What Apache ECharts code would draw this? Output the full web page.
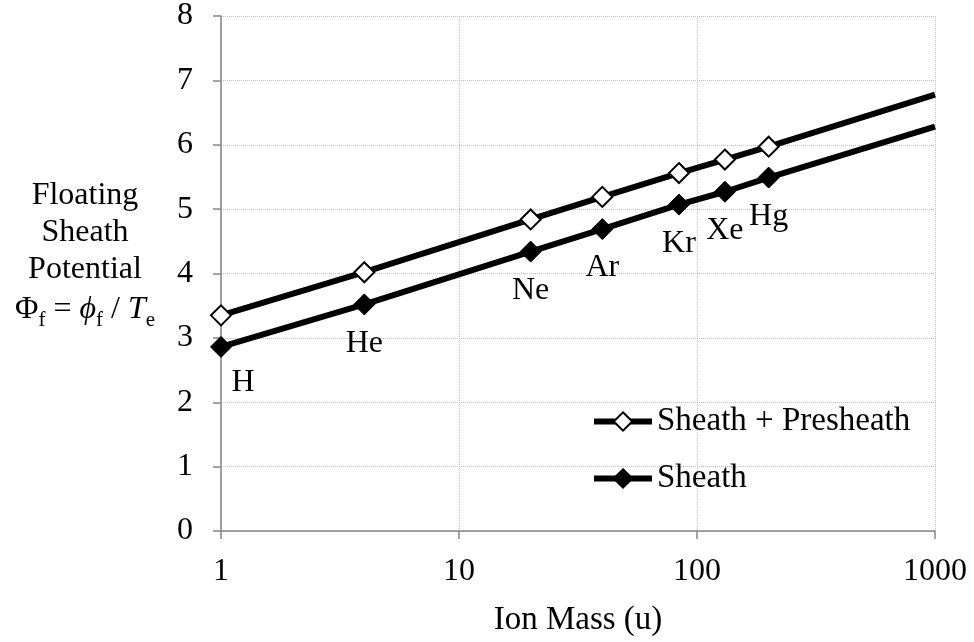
<!DOCTYPE html>
<html><head><meta charset="utf-8">
<script src="https://cdn.jsdelivr.net/npm/echarts@6/dist/echarts.min.js"></script>
<style>html,body{margin:0;padding:0;background:#fff}#c{width:974px;height:642px}</style>
</head><body><div id="c"></div>
<script>
// Data
const ionMass = [1, 4, 20, 40, 84, 131, 200, 1000];
const ionNames = ['H', 'He', 'Ne', 'Ar', 'Kr', 'Xe', 'Hg', ''];
const sheathPresheath = [3.35, 4.02, 4.84, 5.19, 5.56, 5.77, 5.97, 6.78];
const sheath = [2.86, 3.52, 4.34, 4.69, 5.07, 5.27, 5.49, 6.28];
const seriesNames = ['Sheath + Presheath', 'Sheath'];
const xTickLabels = ['1', '10', '100', '1000'];
const yTickLabels = ['0', '1', '2', '3', '4', '5', '6', '7', '8'];
const axisTitleX = 'Ion Mass (u)';
const axisTitleYLines = ['Floating', 'Sheath', 'Potential'];

const FONT = "'Liberation Serif', 'Times New Roman', serif";
const FS = 32;

function makeData(vals, withLabels) {
  return ionMass.map((m, i) => {
    const last = i === ionMass.length - 1;
    const item = { value: [m, vals[i]] };
    if (last) { item.symbol = 'none'; }
    if (withLabels && !last) {
      item.label = {
        show: true,
        position: 'inside',
        offset: i === 0 ? [22, 36] : [0, 39],
        formatter: () => ionNames[i],
        color: '#000', fontFamily: FONT, fontSize: FS
      };
    }
    return item;
  });
}

const chart = echarts.init(document.getElementById('c'), null, { renderer: 'canvas' });
chart.setOption({
  backgroundColor: '#fff',
  animation: false,
  grid: { left: 221, right: 39, top: 15, bottom: 107, containLabel: false },
  xAxis: {
    type: 'log', logBase: 10, min: 1, max: 1000,
    name: axisTitleX, nameLocation: 'middle', nameGap: 73,
    nameTextStyle: { color: '#000', fontFamily: FONT, fontSize: 33 },
    axisLine: { show: true, lineStyle: { color: '#868686', width: 1.5 } },
    axisTick: { show: true, length: 8, lineStyle: { color: '#868686', width: 1.5 } },
    axisLabel: {
      color: '#000', fontFamily: FONT, fontSize: FS, margin: 25,
      formatter: v => { const k = Math.round(Math.log10(v)); return xTickLabels[k] !== undefined ? xTickLabels[k] : ''; }
    },
    splitLine: { show: true, lineStyle: { color: '#bfbfbf', type: 'dotted', width: 1 } },
    minorTick: { show: false }
  },
  yAxis: {
    type: 'value', min: 0, max: 8, interval: 1,
    axisLine: { show: true, lineStyle: { color: '#868686', width: 1.5 } },
    axisTick: { show: true, length: 8, lineStyle: { color: '#868686', width: 1.5 } },
    axisLabel: {
      color: '#000', fontFamily: FONT, fontSize: FS, margin: 28,
      formatter: v => yTickLabels[Math.round(v)]
    },
    splitLine: { show: true, lineStyle: { color: '#bfbfbf', type: 'dotted', width: 1 } }
  },
  legend: {
    orient: 'vertical', left: 591, top: 405, itemWidth: 58, itemHeight: 23, itemGap: 24,
    padding: 0,
    lineStyle: { width: 6, color: '#000' },
    itemStyle: { borderWidth: 2 },
    textStyle: { color: '#000', fontFamily: FONT, fontSize: 33, padding: [0, 0, 0, 0] },
    data: seriesNames
  },
  graphic: [
    {
      type: 'text', x: 85, y: 177, silent: true,
      style: {
        text: axisTitleYLines.join('\n'),
        align: 'center', verticalAlign: 'top',
        fontFamily: FONT, fontSize: FS, lineHeight: 37, fill: '#000'
      }
    },
    {
      type: 'text', x: 85, y: 294, silent: true,
      style: {
        text: '{n|Φ}{s|f}{n| = }{i|ϕ}{s|f}{n| / }{i|T}{s|e}',
        align: 'center', verticalAlign: 'top',
        fill: '#000',
        rich: {
          n: { fontFamily: FONT, fontSize: FS, lineHeight: 37, fill: '#000', verticalAlign: 'top' },
          i: { fontFamily: FONT, fontSize: FS, fontStyle: 'italic', lineHeight: 37, fill: '#000', verticalAlign: 'top' },
          s: { fontFamily: FONT, fontSize: 21, lineHeight: 21, fill: '#000', verticalAlign: 'bottom' }
        }
      }
    }
  ],
  series: [
    {
      name: seriesNames[0], type: 'line',
      data: makeData(sheathPresheath, false),
      symbol: 'diamond', symbolSize: 20, showAllSymbol: true,
      lineStyle: { color: '#000', width: 6 },
      itemStyle: { color: '#fff', borderColor: '#000', borderWidth: 2 },
      emphasis: { disabled: true }, z: 3
    },
    {
      name: seriesNames[1], type: 'line',
      data: makeData(sheath, true),
      symbol: 'diamond', symbolSize: 21, showAllSymbol: true,
      lineStyle: { color: '#000', width: 6 },
      itemStyle: { color: '#000', borderColor: '#000', borderWidth: 1 },
      emphasis: { disabled: true }, z: 2
    }
  ]
});
</script></body></html>
